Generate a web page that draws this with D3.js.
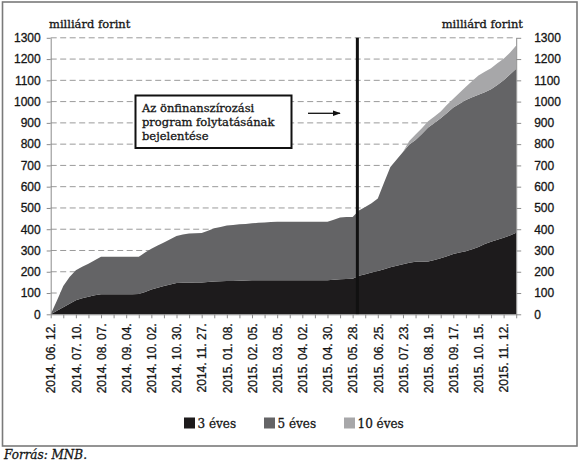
<!DOCTYPE html>
<html>
<head>
<meta charset="utf-8">
<script src="https://cdn.jsdelivr.net/npm/d3@7"></script>
<style>
  body { margin: 0; background: #fff; }
  svg { display: block; font-family: 'DejaVu Serif', serif; }
  svg text { fill: #151515; stroke: #151515; stroke-width: 0.3px; }
  .axis text { font-size: 12px; }
  .axis path, .axis line { stroke: #8c8c8c; }
</style>
</head>
<body>
<svg id="chart" width="580" height="472"></svg>
<script>
// weekly auction dates (every 4th one is labelled)
const DATES = [
  '2014. 06. 12.', '2014. 06. 19.', '2014. 06. 26.', '2014. 07. 03.', '2014. 07. 10.',
  '2014. 07. 17.', '2014. 07. 24.', '2014. 07. 31.', '2014. 08. 07.', '2014. 08. 14.',
  '2014. 08. 21.', '2014. 08. 28.', '2014. 09. 04.', '2014. 09. 11.', '2014. 09. 18.',
  '2014. 09. 25.', '2014. 10. 02.', '2014. 10. 09.', '2014. 10. 16.', '2014. 10. 23.',
  '2014. 10. 30.', '2014. 11. 06.', '2014. 11. 13.', '2014. 11. 20.', '2014. 11. 27.',
  '2014. 12. 04.', '2014. 12. 11.', '2014. 12. 18.', '2015. 01. 08.', '2015. 01. 15.',
  '2015. 01. 22.', '2015. 01. 29.', '2015. 02. 05.', '2015. 02. 12.', '2015. 02. 19.',
  '2015. 02. 26.', '2015. 03. 05.', '2015. 03. 12.', '2015. 03. 19.', '2015. 03. 26.',
  '2015. 04. 02.', '2015. 04. 09.', '2015. 04. 16.', '2015. 04. 23.', '2015. 04. 30.',
  '2015. 05. 07.', '2015. 05. 14.', '2015. 05. 21.', '2015. 05. 28.', '2015. 06. 04.',
  '2015. 06. 11.', '2015. 06. 18.', '2015. 06. 25.', '2015. 07. 02.', '2015. 07. 09.',
  '2015. 07. 16.', '2015. 07. 23.', '2015. 07. 30.', '2015. 08. 06.', '2015. 08. 13.',
  '2015. 08. 19.', '2015. 08. 27.', '2015. 09. 03.', '2015. 09. 10.', '2015. 09. 17.',
  '2015. 09. 24.', '2015. 10. 01.', '2015. 10. 08.', '2015. 10. 15.', '2015. 10. 22.',
  '2015. 10. 29.', '2015. 11. 05.', '2015. 11. 12.', '2015. 11. 19.', '2015. 11. 26.',
]

const EVES_3 = [
  0, 17, 33, 50, 66, 75, 83, 89, 94, 94,
  94, 94, 94, 94, 95, 105, 117, 125, 133, 140,
  147, 148, 148, 149, 150, 152, 154, 155, 156, 157,
  158, 159, 160, 160, 160, 160, 160, 160, 160, 160,
  160, 160, 160, 160, 160, 162, 165, 166, 167, 181,
  188, 196, 203, 212, 221, 228, 235, 242, 247, 247,
  248, 255, 263, 273, 283, 290, 297, 306, 317, 330,
  341, 350, 360, 371, 383,
]
const EVES_5 = [
  0, 48, 100, 125, 141, 148, 155, 165, 176, 176,
  176, 176, 176, 176, 175, 185, 191, 198, 205, 213,
  221, 227, 232, 232, 232, 241, 250, 256, 261, 263,
  265, 266, 268, 270, 272, 274, 275, 275, 275, 275,
  275, 275, 275, 275, 275, 283, 290, 291, 291, 307,
  317, 326, 342, 408, 472, 500, 528, 556, 573, 601,
  630, 645, 659, 673, 689, 700, 711, 714, 715, 714,
  717, 728, 740, 757, 772,
]
const EVES_10 = [
  0, 0, 0, 0, 0, 0, 0, 0, 0, 0,
  0, 0, 0, 0, 0, 0, 0, 0, 0, 0,
  0, 0, 0, 0, 0, 0, 0, 0, 0, 0,
  0, 0, 0, 0, 0, 0, 0, 0, 0, 0,
  0, 0, 0, 0, 0, 0, 0, 0, 0, 0,
  0, 0, 0, 0, 0, 0, 0, 17, 25, 27,
  30, 30, 31, 39, 42, 52, 62, 77, 91, 96,
  99, 102, 102, 102, 109,
]
const SERIES = ['3 éves', '5 éves', '10 éves']
const Y_TICKS = [0, 100, 200, 300, 400, 500, 600, 700, 800, 900, 1000, 1100, 1200, 1300]
const UNIT = 'milliárd forint'
const NOTE = ['Az önfinanszírozási', 'program folytatásának', 'bejelentése']
// announcement falls between 2015.05.28 and 2015.06.04
const NOTE_AT = 48.75

const COLORS = {
  '3 éves': '#1d1b1c',
  '5 éves': '#646466',
  '10 éves': '#a7a7a9',
  grid: '#9a9a9a',
}

const M = { left: 50.7, right: 516.2, top: 37.8, bottom: 314.3 }

const svg = d3.select('#chart')

// frame
svg.append('rect')
  .attr('x', 2.5).attr('y', 2).attr('width', 574.5).attr('height', 444)
  .attr('fill', 'none').attr('stroke', '#7a7a7a').attr('stroke-width', 1.6)

const x = d3.scalePoint().domain(DATES).range([M.left, M.right])
const y = d3.scaleLinear().domain([0, 1300]).range([M.bottom, M.top])

const ROWS = DATES.map((d, i) => ({
  date: d,
  '3 éves': EVES_3[i],
  '5 éves': EVES_5[i],
  '10 éves': EVES_10[i],
}))
const STACK = d3.stack().keys(SERIES)(ROWS)

// dashed grid behind the areas
svg.append('g')
  .selectAll('line')
  .data(Y_TICKS.filter(v => v > 0))
  .join('line')
  .attr('x1', M.left).attr('x2', M.right)
  .attr('y1', d => y(d)).attr('y2', d => y(d))
  .attr('stroke', COLORS.grid)
  .attr('stroke-width', 1)
  .attr('stroke-dasharray', '6,3.5')

const AREA = d3.area()
  .x(d => x(d.data.date))
  .y0(d => y(d[0]))
  .y1(d => y(d[1]))

svg.append('g')
  .selectAll('path')
  .data(STACK)
  .join('path')
  .attr('d', AREA)
  .attr('fill', d => COLORS[d.key])

// announcement line
const step = x.step()
svg.append('line')
  .attr('x1', M.left + NOTE_AT * step).attr('x2', M.left + NOTE_AT * step)
  .attr('y1', y(1300)).attr('y2', y(0))
  .attr('stroke', '#111').attr('stroke-width', 3)

// axes
const fmt = d3.format('d')
svg.append('g')
  .attr('class', 'axis')
  .attr('transform', `translate(${M.left},0)`)
  .call(d3.axisLeft(y).tickValues(Y_TICKS).tickFormat(fmt).tickSize(4).tickPadding(6).tickSizeOuter(0))

svg.append('g')
  .attr('class', 'axis')
  .attr('transform', `translate(${M.right},0)`)
  .call(d3.axisRight(y).tickValues(Y_TICKS).tickFormat(fmt).tickSize(5).tickPadding(13).tickSizeOuter(0))

const X_AXIS = svg.append('g')
  .attr('class', 'axis')
  .attr('transform', `translate(0,${M.bottom})`)
  .call(d3.axisBottom(x)
    .tickValues(DATES.filter((_, i) => i % 2 === 0))
    .tickFormat((d, i) => (i % 2 === 0 ? d : ''))
    .tickSize(4)
    .tickSizeOuter(0))
X_AXIS.selectAll('text')
  .attr('transform', 'rotate(-90)')
  .attr('x', -9).attr('y', 0).attr('dy', '0.35em')
  .attr('text-anchor', 'end')

// unit labels
svg.append('text')
  .attr('x', 49).attr('y', 28)
  .attr('font-size', 11.5)
  .text(UNIT)
svg.append('text')
  .attr('x', 523).attr('y', 28)
  .attr('text-anchor', 'end')
  .attr('font-size', 11.5)
  .text(UNIT)

// note box with arrow
svg.append('rect')
  .attr('x', 135.5).attr('y', 95.5).attr('width', 156).attr('height', 52.5)
  .attr('fill', '#fff').attr('stroke', '#111').attr('stroke-width', 2)
svg.append('g')
  .selectAll('text')
  .data(NOTE)
  .join('text')
  .attr('x', 142).attr('y', (_, i) => 111.5 + i * 14)
  .attr('font-size', 11.5)
  .text(d => d)

svg.append('defs').append('marker')
  .attr('id', 'head')
  .attr('viewBox', '0 0 10 10')
  .attr('refX', 9).attr('refY', 5)
  .attr('markerWidth', 6).attr('markerHeight', 6)
  .attr('orient', 'auto')
  .append('path')
  .attr('d', 'M0,1.5L10,5L0,8.5Z')
  .attr('fill', '#111')
svg.append('line')
  .attr('x1', 308).attr('x2', 340).attr('y1', 113.3).attr('y2', 113.3)
  .attr('stroke', '#111').attr('stroke-width', 1.3)
  .attr('marker-end', 'url(#head)')

// legend
const LEGEND = svg.append('g')
  .selectAll('g')
  .data(SERIES)
  .join('g')
  .attr('transform', (_, i) => `translate(${184 + i * 80},417.5)`)
LEGEND.append('rect')
  .attr('width', 11).attr('height', 11)
  .attr('fill', d => COLORS[d])
LEGEND.append('text')
  .attr('x', 13.5).attr('y', 10.5)
  .attr('font-size', 12)
  .text(d => d)

svg.append('text')
  .attr('x', 4).attr('y', 459)
  .attr('font-size', 12).attr('font-style', 'italic')
  .text('Forrás: MNB.')
</script>
</body>
</html>
